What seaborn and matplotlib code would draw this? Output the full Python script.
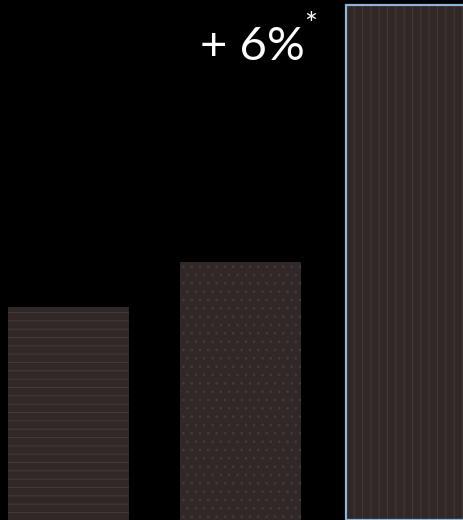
import matplotlib
matplotlib.use("Agg")
import pandas as pd
import seaborn as sns
import matplotlib.pyplot as plt

categories = ["a", "b", "c"]
values = [213, 258, 515]
hatches = ["--", "..", "||"]
label = "+ 6%"

df = pd.DataFrame({"cat": categories, "val": values})

sns.set_style("dark")
plt.rcParams["font.family"] = ["Lato", "DejaVu Sans"]
plt.rcParams["hatch.linewidth"] = 0.7

fig = plt.figure(figsize=(4.64, 5.2), dpi=100, facecolor="#000000")
ax = fig.add_axes([0, 0, 1, 1])
ax.set_facecolor("#030406")

sns.barplot(data=df, x="cat", y="val", color="#2f2826", width=0.70,
            saturation=1, ax=ax)

for i, p in enumerate(ax.patches):
    p.set_hatch(hatches[i])
    p.set_edgecolor("#45393a")
    p.set_linewidth(0)
    if i == 2:
        p.set_x(p.get_x() - 0.035)
        p.set_width(p.get_width() + 0.035)

# light blue outline on the last bar
last = ax.patches[2]
ax.add_patch(plt.Rectangle((last.get_x(), 0), last.get_width(), last.get_height(),
                           fill=False, edgecolor="#8fb4d8", linewidth=1.6))

ax.set_xlim(-0.398, 2.30)
ax.set_ylim(0, 520)
ax.axis("off")

fig.text(0.43, 0.95, label, color="white", fontsize=34, weight="normal",
         ha="left", va="top")
fig.text(0.656, 0.978, "*", color="white", fontsize=22, weight="normal",
         ha="left", va="top")

fig.savefig("out.png", dpi=100, facecolor=fig.get_facecolor())
